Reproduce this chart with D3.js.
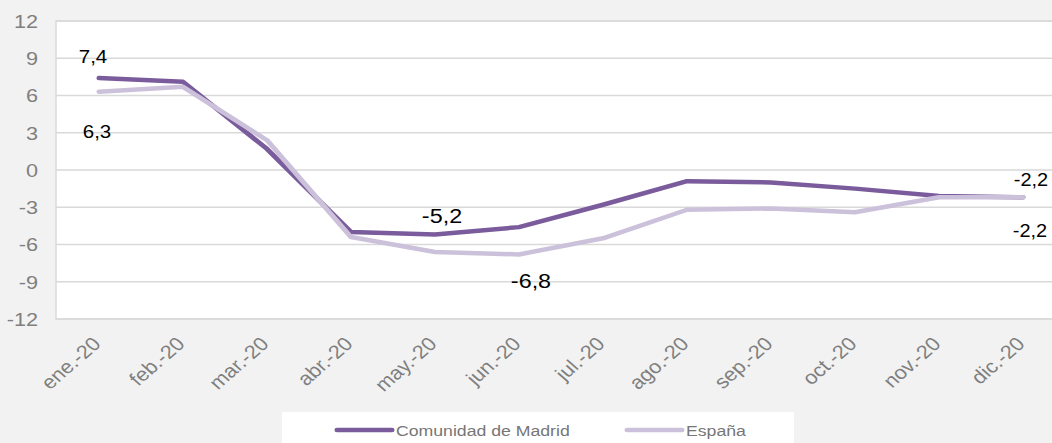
<!DOCTYPE html>
<meta charset="utf-8">
<script src="https://d3js.org/d3.v7.min.js"></script>
<style>
  body { margin: 0; background: #f2f2f2; }
  svg { display: block; font-family: "Liberation Sans", Arial, sans-serif; }
</style>
<div id="my_chart"><svg></svg></div>
<script>
    // data
    var months = ["ene.-20", "feb.-20", "mar.-20", "abr.-20", "may.-20", "jun.-20",
                  "jul.-20", "ago.-20", "sep.-20", "oct.-20", "nov.-20", "dic.-20"];
    var madrid = [7.4, 7.1, 1.7, -5.0, -5.2, -4.6, -2.8, -0.9, -1.0, -1.5, -2.1, -2.2];
    var espana = [6.3, 6.7, 2.4, -5.4, -6.6, -6.8, -5.5, -3.2, -3.1, -3.4, -2.2, -2.2];
    var yTicks = [-12, -9, -6, -3, 0, 3, 6, 9, 12];
    var seriesNames = ["Comunidad de Madrid", "España"];

    var W = 1052, H = 443;
    var SX = 1.14;               // picture is a bit wider than tall
    function ix(v) { return v / SX; }

    var svg = d3.select("#my_chart").select("svg")
        .attr("width", W)
        .attr("height", H);

    svg.append("rect").attr("width", W).attr("height", H).attr("fill", "#f2f2f2");

    var g = svg.append("g").attr("transform", "scale(" + SX + ",1)");

    var plotLeft = 56, plotTop = 21, plotBottom = 319;

    var x = d3.scalePoint().domain(months).range([ix(99), ix(1023)]);
    var y = d3.scaleLinear().domain([-12, 12]).range([plotBottom, plotTop]);

    // plot area
    g.append("rect")
        .attr("x", ix(plotLeft))
        .attr("y", plotTop)
        .attr("width", ix(W - plotLeft) + 5)
        .attr("height", plotBottom - plotTop)
        .attr("fill", "#fff")
        .attr("stroke", "#d9d9d9")
        .attr("stroke-width", 1.3);

    // gridlines + y labels
    g.append("g").selectAll("line").data(yTicks).join("line")
        .attr("x1", ix(plotLeft)).attr("x2", ix(W) + 5)
        .attr("y1", function(d) { return y(d); })
        .attr("y2", function(d) { return y(d); })
        .attr("stroke", "#d9d9d9")
        .attr("stroke-width", 1.3);

    g.append("g").selectAll("text").data(yTicks).join("text")
        .attr("x", ix(38))
        .attr("y", function(d) { return y(d); })
        .attr("dy", "0.36em")
        .attr("text-anchor", "end")
        .attr("fill", "#7f7f7f")
        .style("font-size", "19px")
        .text(function(d) { return d; });

    // x labels, rotated
    g.append("g").selectAll("text").data(months).join("text")
        .attr("transform", function(d) {
            return "translate(" + (x(d) + ix(3)) + ",345) rotate(-45)";
        })
        .attr("text-anchor", "end")
        .attr("fill", "#7f7f7f")
        .style("font-size", "19px")
        .text(function(d) { return d; });

    // lines
    var line = d3.line()
        .x(function(d, i) { return x(months[i]); })
        .y(function(d) { return y(d); });

    var colors = ["#7a5b9b", "#ccc1da"];

    [madrid, espana].forEach(function(s, k) {
        g.append("path")
            .datum(s)
            .attr("fill", "none")
            .attr("stroke", colors[k])
            .attr("stroke-width", 4.5)
            .attr("stroke-linejoin", "round")
            .attr("stroke-linecap", "round")
            .attr("d", line);
    });

    // data labels: [series, index, dx (px), dy (px), font size]
    var labels = [
        [madrid, 0, -6, -15, 18],
        [espana, 0, -2, 46, 18],
        [madrid, 4, 7, -12, 20.5],
        [espana, 5, 12, 34, 20.5],
        [madrid, 11, 8, -11, 17.5],
        [espana, 11, 7, 40, 17.5]
    ];

    g.append("g").selectAll("text").data(labels).join("text")
        .attr("x", function(d) { return x(months[d[1]]) + ix(d[2]); })
        .attr("y", function(d) { return y(d[0][d[1]]) + d[3]; })
        .attr("text-anchor", "middle")
        .attr("fill", "#000")
        .style("font-size", function(d) { return d[4] + "px"; })
        .text(function(d) { return d[0][d[1]].toFixed(1).replace(".", ","); });

    // legend
    g.append("rect")
        .attr("x", ix(282)).attr("y", 412)
        .attr("width", ix(794 - 282)).attr("height", 40)
        .attr("fill", "#fff");

    var legendX = [337, 627];
    seriesNames.forEach(function(name, k) {
        g.append("line")
            .attr("x1", ix(legendX[k])).attr("x2", ix(legendX[k] + 55))
            .attr("y1", 430).attr("y2", 430)
            .attr("stroke", colors[k])
            .attr("stroke-width", 4.5)
            .attr("stroke-linecap", "round");
        g.append("text")
            .attr("x", ix(legendX[k] + 59))
            .attr("y", 436)
            .attr("fill", "#767676")
            .style("font-size", "15.5px")
            .text(name);
    });
</script>
